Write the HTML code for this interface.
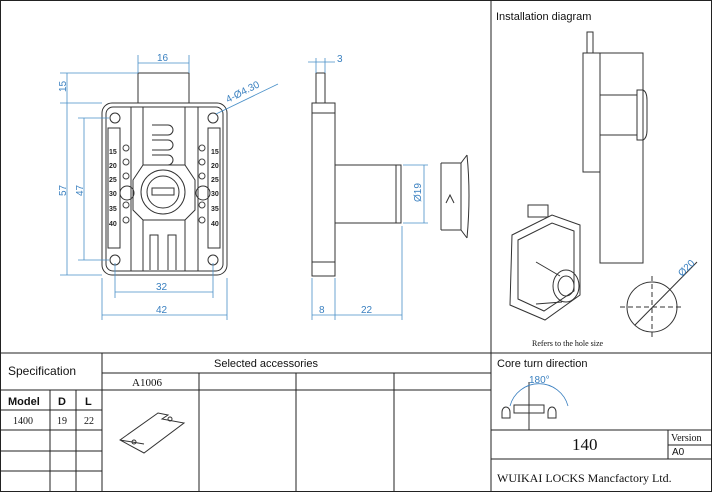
<!DOCTYPE html>
<html><head><meta charset="utf-8"><style>
body{margin:0;background:#fff}
svg{display:block}
.s{font-family:"Liberation Sans",sans-serif}
.m{font-family:"Liberation Serif",serif}
</style></head><body>
<svg width="712" height="492" viewBox="0 0 712 492" xmlns="http://www.w3.org/2000/svg">
<g fill="none" stroke="#222" stroke-width="1">
<rect x="0.5" y="0.5" width="711" height="491"/>
<line x1="491" y1="0" x2="491" y2="492"/>
<line x1="0" y1="353" x2="712" y2="353"/>
<!-- spec -->
<line x1="102" y1="353" x2="102" y2="492"/>
<line x1="0" y1="390" x2="102" y2="390"/>
<line x1="0" y1="410" x2="102" y2="410"/>
<line x1="0" y1="430" x2="102" y2="430"/>
<line x1="0" y1="451" x2="102" y2="451"/>
<line x1="0" y1="471" x2="102" y2="471"/>
<line x1="50" y1="390" x2="50" y2="492"/>
<line x1="76" y1="390" x2="76" y2="492"/>
<!-- accessories -->
<line x1="102" y1="373" x2="491" y2="373"/>
<line x1="102" y1="390" x2="491" y2="390"/>
<line x1="199" y1="373" x2="199" y2="492"/>
<line x1="296" y1="373" x2="296" y2="492"/>
<line x1="394" y1="373" x2="394" y2="492"/>
<!-- right bottom -->
<line x1="491" y1="430" x2="712" y2="430"/>
<line x1="491" y1="459" x2="712" y2="459"/>
<line x1="668" y1="430" x2="668" y2="459"/>
<line x1="668" y1="445" x2="712" y2="445"/>
</g>
<g class="s" font-size="11" fill="#111">
<text x="496" y="20">Installation diagram</text>
<text x="8" y="375" font-size="12">Specification</text>
<text x="214" y="367">Selected accessories</text>
<text x="497" y="367">Core turn direction</text>
<text x="8" y="405" font-weight="bold">Model</text>
<text x="58" y="405" font-weight="bold">D</text>
<text x="85" y="405" font-weight="bold">L</text>
<text x="672" y="455" font-size="10">A0</text>
</g>
<g class="m" fill="#111">
<text x="132" y="386" font-size="11">A1006</text>
<text x="13" y="424" font-size="10">1400</text>
<text x="57" y="424" font-size="10">19</text>
<text x="84" y="424" font-size="10">22</text>
<text x="572" y="450" font-size="17">140</text>
<text x="671" y="441" font-size="10">Version</text>
<text x="497" y="482" font-size="12">WUIKAI LOCKS Mancfactory Ltd.</text>
<text x="532" y="346" font-size="8">Refers to the hole size</text>
</g>
<!-- front view -->
<g fill="none" stroke="#333" stroke-width="1">
<rect x="138" y="73" width="51" height="30"/>
<rect x="102" y="103" width="125" height="172" rx="10"/>
<rect x="106" y="107" width="117" height="164" rx="7"/>
<line x1="131" y1="107" x2="131" y2="271"/><line x1="198" y1="107" x2="198" y2="271"/>
<line x1="143" y1="107" x2="143" y2="165"/><line x1="185" y1="107" x2="185" y2="165"/>
<line x1="143" y1="220" x2="143" y2="271"/><line x1="185" y1="220" x2="185" y2="271"/>
<path d="M152 140h16a5 5 0 0 1 0 10h-16M152 155h16a5 5 0 0 1 0 10h-16M152 125h16a5 5 0 0 1 0 10h-16"/>
<path d="M150 270v-35h8v35M168 270v-35h8v35"/>
<path d="M133 180l10-15h42l10 15v30l-10 10h-42l-10-10z"/>
<circle cx="163" cy="192" r="22"/><circle cx="163" cy="192" r="16"/>
<rect x="152" y="188" width="22" height="7"/>
<circle cx="127" cy="193" r="7"/><circle cx="203" cy="193" r="7"/>
<circle cx="115" cy="118" r="5"/><circle cx="213" cy="118" r="5"/>
<circle cx="115" cy="260" r="5"/><circle cx="213" cy="260" r="5"/>
<rect x="108" y="128" width="12" height="120"/><rect x="208" y="128" width="12" height="120"/>
<g stroke="#444"><circle cx="126" cy="148" r="3"/><circle cx="126" cy="162" r="3"/><circle cx="126" cy="176" r="3"/><circle cx="126" cy="205" r="3"/><circle cx="126" cy="220" r="3"/>
<circle cx="202" cy="148" r="3"/><circle cx="202" cy="162" r="3"/><circle cx="202" cy="176" r="3"/><circle cx="202" cy="205" r="3"/><circle cx="202" cy="220" r="3"/></g>
</g>
<g class="s" font-size="7" font-weight="bold" fill="#222">
<text x="109" y="154">15</text><text x="109" y="168">20</text><text x="109" y="182">25</text><text x="109" y="196">30</text><text x="109" y="211">35</text><text x="109" y="226">40</text>
<text x="211" y="154">15</text><text x="211" y="168">20</text><text x="211" y="182">25</text><text x="211" y="196">30</text><text x="211" y="211">35</text><text x="211" y="226">40</text>
</g>
<!-- side view -->
<g fill="none" stroke="#333">
<rect x="316" y="73" width="9" height="30"/>
<rect x="312" y="103" width="23" height="173"/>
<line x1="312" y1="113" x2="335" y2="113"/><line x1="312" y1="262" x2="335" y2="262"/>
<rect x="335" y="165" width="66" height="58"/>
<line x1="396" y1="165" x2="396" y2="223"/>
<path d="M441 163h20l6 -8M441 230h20l6 8M461 163v67M467 155q4 40 0 83"/>
<path d="M441 163v67M446 203l4-8 4 8"/>
<!-- installation -->
<rect x="587" y="32" width="6" height="21"/>
<rect x="583" y="53" width="17" height="119"/>
<rect x="600" y="53" width="43" height="210"/>
<rect x="600" y="95" width="37" height="40"/>
<path d="M637 90h6q4 2 4 10v30q0 8-4 10h-6z"/>
<circle cx="652" cy="307" r="25"/>
<path d="M652 276v62M620 307h64" stroke-dasharray="5 3"/>
<line x1="635" y1="325" x2="697" y2="262"/>
<!-- iso lock -->
<path d="M512 235l40-20 28 10v70l-35 25-35-15z"/>
<path d="M518 240l34-17 22 8v60l-30 20-26-12z"/>
<rect x="528" y="205" width="20" height="12"/>
<ellipse cx="566" cy="286" rx="13" ry="16"/><ellipse cx="566" cy="286" rx="8" ry="10"/>
<path d="M536 262l24 14M536 304l26-2"/>
<!-- accessory bracket -->
<path d="M120 440l38-27l10 2l-6 4l22 4l-40 30z M120 440l24 4"/>
<circle cx="134" cy="442" r="2"/><circle cx="170" cy="419" r="2"/>
<!-- core turn -->
<line x1="529" y1="382" x2="529" y2="430"/>
<rect x="514" y="405" width="30" height="8"/>
<path d="M502 412a4 5 0 1 1 8 0v6h-8zM548 412a4 5 0 1 1 8 0v6h-8z"/>
</g>
<!-- dimensions blue -->
<g stroke="#4a90c8" stroke-width="0.8" fill="none">
<path d="M138 63h51M138 55v18M189 55v18"/>
<path d="M67 73v202M60 73h78M60 103h42M60 275h42"/>
<path d="M84 118v142M78 118h31M78 260h31"/>
<path d="M115 292h98M115 263v35M213 263v35"/>
<path d="M102 315h125M102 278v42M227 278v42"/>
<path d="M216 114l62-30"/>
<path d="M308 62h27M316 58v15M325 58v15"/>
<path d="M312 315h90M312 278v42M335 278v42M402 226v94"/>
<path d="M424 165v58M403 165h25M403 223h25"/>
<path d="M510 406a30 30 0 0 1 58 0" stroke="#3a7fc0"/>
</g>
<g class="s" font-size="10" fill="#3a80c0">
<text x="157" y="61">16</text>
<text x="66" y="92" transform="rotate(-90 66 92)">15</text>
<text x="66" y="196" transform="rotate(-90 66 196)">57</text>
<text x="83" y="196" transform="rotate(-90 83 196)">47</text>
<text x="156" y="290">32</text>
<text x="156" y="313">42</text>
<text x="228" y="103" transform="rotate(-27 228 103)">4-Ø4.30</text>
<text x="337" y="62">3</text>
<text x="319" y="313">8</text>
<text x="361" y="313">22</text>
<text x="421" y="202" transform="rotate(-90 421 202)">Ø19</text>
<text x="682" y="277" transform="rotate(-45 682 277)">Ø20</text>
<text x="529" y="383">180°</text>
</g>
</svg>
</body></html>
